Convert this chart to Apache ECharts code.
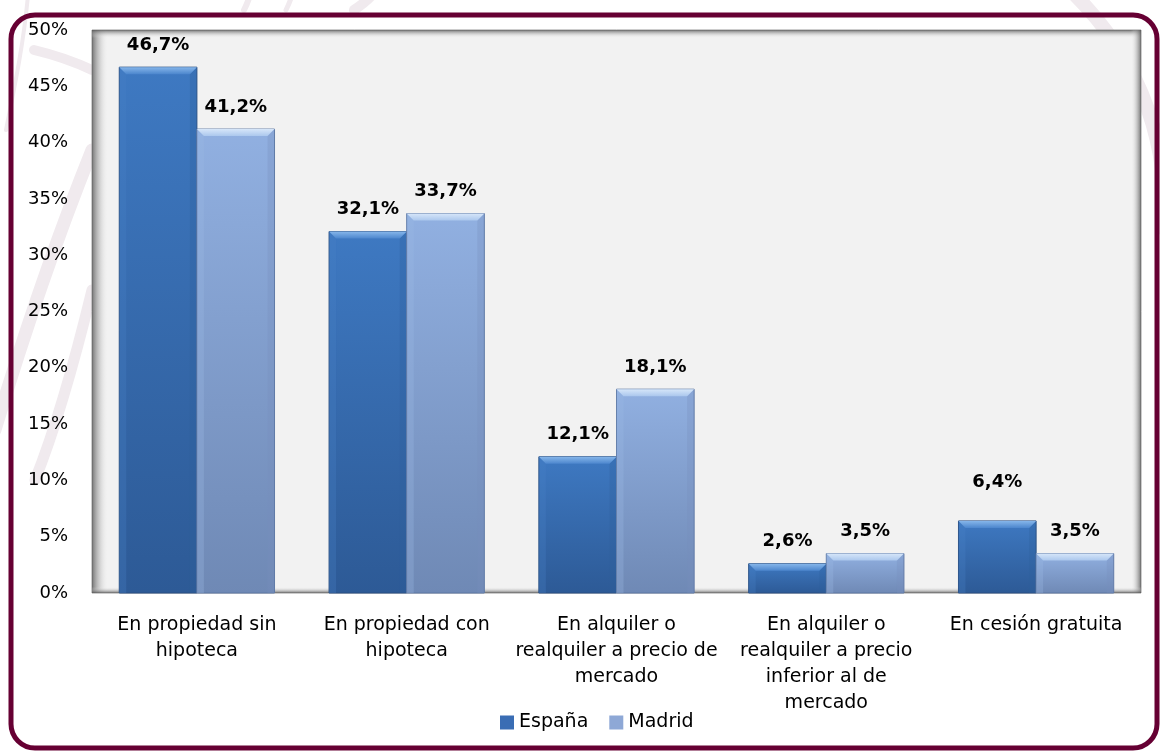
<!DOCTYPE html>
<html>
<head>
<meta charset="utf-8">
<script src="https://cdn.jsdelivr.net/npm/echarts@6/dist/echarts.min.js"></script>
<style>
  html, body { margin: 0; padding: 0; background: #fff; }
  #chart { width: 1160px; height: 751px; }
</style>
</head>
<body>
<div id="chart"></div>
<script>
  // data
  var categories = [
    'En propiedad sin\nhipoteca',
    'En propiedad con\nhipoteca',
    'En alquiler o\nrealquiler a precio de\nmercado',
    'En alquiler o\nrealquiler a precio\ninferior al de\nmercado',
    'En cesión gratuita'
  ]
  var seriesNames = ['España', 'Madrid']
  var espana = [46.7, 32.1, 12.1, 2.6, 6.4]
  var madrid = [41.2, 33.7, 18.1, 3.5, 3.5]
  var yMin = 0
  var yMax = 50
  var yStep = 5

  // layout
  var G = { left: 92, top: 30, right: 19, bottom: 158 }
  var W = 1160, H = 751
  var gx0 = G.left, gy0 = G.top, gx1 = W - G.right, gy1 = H - G.bottom
  var CAT_GAP = 0.26
  var BEVEL = 7
  var FONT = 'DejaVu Sans'

  var palettes = [
    { top: '#3e79c2', bottom: '#2d5a96', bevel: ['#86b6ea', '#4c86cd'], left: '#4a82c8', right: '#2f5f9c', edge: '#2a4f82', legend: '#3a6db4' },
    { top: '#91b0e1', bottom: '#6f89b5', bevel: ['#d6e6f9', '#abc7ed'], left: '#9ab8e4', right: '#7790bc', edge: '#5d77a3', legend: '#8ea8d6' }
  ]

  function fmt(v) {
    return v.toFixed(1).replace('.', ',') + '%'
  }

  function makeRender(side) {
    return function(params, api) {
      var idx = api.value(0)
      var val = api.value(1)
      var base = api.coord([idx, 0])
      var topPt = api.coord([idx, val])
      var band = api.size([1, 0])[0]
      var w = band * (1 - CAT_GAP) / 2
      var x = base[0] - w + side * w
      var yT = topPt[1]
      var yB = base[1]
      var h = yB - yT
      var b = Math.min(BEVEL, h / 2)
      var pal = palettes[side]
      // Excel pushed this one label further up
      var lift = (side === 0 && idx === 4) ? 39 : 22
      return {
        type: 'group',
        children: [
          {
            type: 'rect',
            shape: { x: x, y: yT, width: w, height: h },
            style: {
              fill: new echarts.graphic.LinearGradient(0, 0, 0, 1, [
                { offset: 0, color: pal.top },
                { offset: 1, color: pal.bottom }
              ]),
              stroke: pal.edge,
              lineWidth: 1
            }
          },
          {
            type: 'polygon',
            shape: { points: [[x, yT], [x + b, yT + b], [x + b, yB], [x, yB]] },
            style: { fill: pal.left, opacity: 0.3 }
          },
          {
            type: 'polygon',
            shape: { points: [[x + w, yT], [x + w - b, yT + b], [x + w - b, yB], [x + w, yB]] },
            style: { fill: pal.right, opacity: 0.3 }
          },
          {
            type: 'polygon',
            shape: { points: [[x, yT], [x + w, yT], [x + w - b, yT + b], [x + b, yT + b]] },
            style: {
              fill: new echarts.graphic.LinearGradient(0, 0, 0, 1, [
                { offset: 0, color: pal.bevel[0] },
                { offset: 1, color: pal.bevel[1] }
              ])
            }
          },
          {
            type: 'text',
            style: {
              text: fmt(val),
              x: x + w / 2,
              y: yT - lift,
              align: 'center',
              verticalAlign: 'middle',
              fontFamily: FONT,
              fontWeight: 'bold',
              fontSize: 18,
              fill: '#000'
            }
          }
        ]
      }
    }
  }

  function pairs(arr) {
    return arr.map(function(v, i) { return [i, v] })
  }

  var washColor = '#f0eaee'
  function swoosh(x1, y1, cx1, cy1, cx2, cy2, x2, y2, width) {
    return {
      type: 'bezierCurve',
      z: 0,
      silent: true,
      shape: { x1: x1, y1: y1, cpx1: cx1, cpy1: cy1, cpx2: cx2, cpy2: cy2, x2: x2, y2: y2 },
      style: { stroke: washColor, lineWidth: width, lineCap: 'round', fill: null }
    }
  }

  var edgeShade = 'rgba(85,85,85,0.8)'
  var clear = 'rgba(242,242,242,0)'

  var chart = echarts.init(document.getElementById('chart'))
  chart.setOption({
    backgroundColor: '#fff',
    animation: false,
    graphic: {
      elements: [
        // faint watermark strokes behind the chart
        swoosh(28, -5, 24, 40, 16, 80, 6, 130, 4),
        swoosh(34, 50, 55, 55, 75, 62, 92, 70, 10),
        swoosh(92, 150, 60, 230, 25, 330, -5, 430, 13),
        swoosh(92, 290, 75, 360, 55, 430, 35, 480, 11),
        swoosh(250, -5, 248, 2, 246, 6, 244, 10, 6),
        swoosh(292, -5, 290, 2, 288, 6, 286, 10, 5),
        swoosh(372, -5, 366, 2, 360, 6, 354, 10, 10),
        swoosh(1075, -5, 1140, 60, 1168, 140, 1165, 230, 14),
        // plot area
        {
          type: 'rect', z: 1, silent: true,
          shape: { x: gx0, y: gy0, width: gx1 - gx0, height: gy1 - gy0 },
          style: { fill: '#f2f2f2', stroke: '#9a9a9a', lineWidth: 1 }
        },
        {
          type: 'rect', z: 1, silent: true,
          shape: { x: gx0, y: gy0, width: 16, height: gy1 - gy0 },
          style: { fill: new echarts.graphic.LinearGradient(0, 0, 1, 0, [{ offset: 0, color: edgeShade }, { offset: 1, color: clear }]) }
        },
        {
          type: 'rect', z: 1, silent: true,
          shape: { x: gx0, y: gy0, width: gx1 - gx0, height: 8 },
          style: { fill: new echarts.graphic.LinearGradient(0, 0, 0, 1, [{ offset: 0, color: edgeShade }, { offset: 1, color: clear }]) }
        },
        {
          type: 'rect', z: 1, silent: true,
          shape: { x: gx1 - 10, y: gy0, width: 10, height: gy1 - gy0 },
          style: { fill: new echarts.graphic.LinearGradient(0, 0, 1, 0, [{ offset: 0, color: clear }, { offset: 1, color: edgeShade }]) }
        },
        {
          type: 'rect', z: 1, silent: true,
          shape: { x: gx0, y: gy1 - 6, width: gx1 - gx0, height: 6 },
          style: { fill: new echarts.graphic.LinearGradient(0, 0, 0, 1, [{ offset: 0, color: clear }, { offset: 1, color: edgeShade }]) }
        },
        // outer frame
        {
          type: 'rect', z: 1, silent: true,
          shape: { x: 11, y: 15, width: 1146, height: 733, r: 24 },
          style: { fill: null, stroke: '#660033', lineWidth: 5 }
        }
      ]
    },
    legend: {
      data: seriesNames,
      left: 495,
      top: 708,
      icon: 'rect',
      itemWidth: 14,
      itemHeight: 14,
      itemGap: 21,
      textStyle: { fontFamily: FONT, fontSize: 19, color: '#000' }
    },
    grid: {
      left: G.left,
      top: G.top,
      right: G.right,
      bottom: G.bottom
    },
    xAxis: {
      type: 'category',
      data: categories,
      axisLine: { show: false },
      axisTick: { show: false },
      axisLabel: {
        interval: 0,
        margin: 19,
        fontFamily: FONT,
        fontSize: 19,
        lineHeight: 26,
        color: '#000'
      }
    },
    yAxis: {
      type: 'value',
      min: yMin,
      max: yMax,
      interval: yStep,
      axisLine: { show: false },
      axisTick: { show: false },
      splitLine: { show: false },
      axisLabel: {
        margin: 24,
        fontFamily: FONT,
        fontSize: 18,
        color: '#000',
        formatter: '{value}%'
      }
    },
    series: [
      {
        name: seriesNames[0],
        type: 'custom',
        renderItem: makeRender(0),
        encode: { x: 0, y: 1 },
        itemStyle: { color: palettes[0].legend },
        data: pairs(espana)
      },
      {
        name: seriesNames[1],
        type: 'custom',
        renderItem: makeRender(1),
        encode: { x: 0, y: 1 },
        itemStyle: { color: palettes[1].legend },
        data: pairs(madrid)
      }
    ]
  })
</script>
</body>
</html>
